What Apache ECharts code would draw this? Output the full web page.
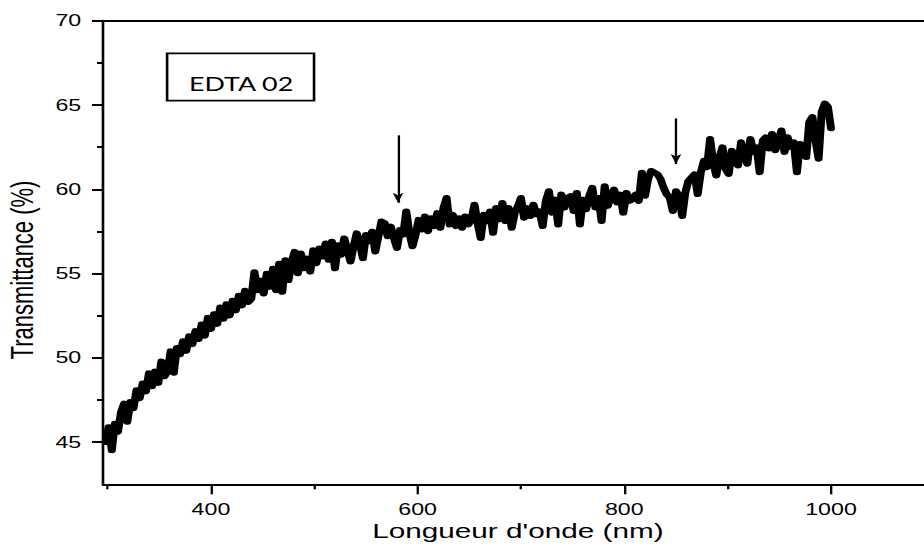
<!DOCTYPE html>
<html>
<head>
<meta charset="utf-8">
<script src="https://cdn.jsdelivr.net/npm/echarts@6/dist/echarts.min.js"></script>
<style>
  html, body { margin: 0; padding: 0; background: #fff; }
  #frame { width: 924px; height: 545px; overflow: hidden; position: relative; }
  /* the figure is drawn at a narrower width and stretched horizontally */
  #chart { width: 637px; height: 545px; transform: scaleX(1.45055); transform-origin: 0 0; }
</style>
</head>
<body>
<div id="frame"><div id="chart"></div></div>
<script>
// Transmittance spectrum of sample EDTA 02, sampled every 3 nm from 298 nm
const sampleLabel = 'EDTA 02';
const xTitle = "Longueur d'onde (nm)";
const yTitle = 'Transmittance (%)';
const startWavelength = 298;
const wavelengthStep = 3;
const transmittance = [
  45.0, 45.9, 44.5, 46.1, 45.6, 46.8, 47.3, 46.2, 47.4, 47.0,
  48.1, 47.6, 48.5, 48.0, 49.1, 48.3, 49.2, 48.5, 49.8, 48.9,
  49.2, 50.4, 49.1, 50.6, 50.2, 51.0, 50.4, 51.3, 50.8, 51.6,
  51.1, 52.0, 51.3, 52.4, 51.7, 52.6, 52.0, 53.0, 52.3, 53.2,
  52.5, 53.4, 52.8, 53.7, 53.1, 54.0, 53.3, 53.5, 55.1, 54.0,
  54.6, 53.8, 55.0, 54.2, 55.3, 54.0, 55.6, 53.9, 55.8, 54.6,
  55.7, 56.3, 55.0, 56.2, 55.3, 55.9, 55.1, 56.4, 55.6, 56.5,
  56.0, 56.8, 55.8, 56.9, 55.3, 56.7, 56.1, 57.1, 56.4, 55.7,
  56.6, 57.4, 56.8, 55.9, 57.3, 56.9, 57.5, 56.3, 57.2, 58.1,
  58.0, 57.2, 57.8, 57.1, 56.5, 57.6, 57.3, 58.7, 57.4, 56.6,
  57.3, 58.2, 57.6, 58.4, 57.5, 58.3, 57.8, 58.6, 57.7, 58.9,
  59.5, 57.9, 58.5, 57.8, 58.3, 57.7, 58.4, 57.9, 58.2, 59.1,
  58.0, 57.1, 58.5, 58.1, 58.7, 57.4, 58.9, 58.2, 59.2, 58.1,
  58.9, 57.7, 58.6, 59.0, 59.5, 58.3, 58.9, 58.4, 59.1, 58.5,
  58.7, 57.8, 59.3, 59.9, 58.6, 59.4, 57.9, 59.7, 58.9, 59.5,
  59.6, 58.7, 59.8, 57.9, 59.4, 58.8, 59.6, 60.1, 58.9, 59.5,
  58.1, 60.2, 59.0, 59.6, 60.0, 59.2, 59.7, 58.6, 59.8, 59.3,
  59.4, 59.7, 59.3, 61.0, 59.6, 60.6, 61.1, 61.0, 60.9, 60.6,
  60.1, 59.7, 59.5, 58.7, 59.9, 59.6, 58.4, 59.8, 60.5, 60.7,
  60.9, 59.7, 61.0, 61.7, 61.3, 63.0, 61.6, 60.8, 61.9, 62.5,
  61.2, 60.9, 62.3, 61.7, 61.4, 62.8, 62.0, 61.5, 63.0, 62.2,
  62.5, 61.0, 62.9, 63.1, 62.4, 63.3, 62.3, 62.8, 63.5, 62.2,
  63.1, 62.5, 62.8, 61.0, 62.7, 62.6, 61.9, 64.0, 64.3, 62.9,
  61.8, 64.6, 65.1, 64.9, 63.6
];
const wavelengths = transmittance.map((_, i) => startWavelength + wavelengthStep * i);

// axis ticks and labels
const xMajorTicks = [400, 600, 800, 1000];
const xMinorTicks = [300, 500, 700, 900];
const yMajorTicks = [45, 50, 55, 60, 65, 70];
const yMinorTicks = [47.5, 52.5, 57.5, 62.5, 67.5];

// vertical arrows marking features of the spectrum
const arrowWavelengths = [581, 850];
const arrowTops = [63.2, 64.2];
const arrowTips = [59.2, 61.5];

const FONT = "'Liberation Sans', Arial, sans-serif";
const chart = echarts.init(document.getElementById('chart'), null, { renderer: 'svg' });

const xRange = { min: 295.5, max: 1090 };
const yRange = { min: 42.5, max: 70 };

const option = {
  animation: false,
  backgroundColor: '#fff',
  grid: { left: 71, right: 0, top: 20.7, bottom: 60.7, containLabel: false },
  xAxis: [
    {
      type: 'value', position: 'bottom', ...xRange,
      axisLine: { show: true, onZero: false, lineStyle: { color: '#000', width: 2 } },
      axisTick: { show: true, customValues: xMajorTicks, length: 10, lineStyle: { color: '#000', width: 1.6 } },
      axisLabel: {
        show: true, customValues: xMajorTicks, margin: 17, fontSize: 16, fontFamily: FONT, color: '#000',
        formatter: (v) => String(v)
      },
      splitLine: { show: false }
    },
    {
      type: 'value', position: 'bottom', ...xRange,
      axisLine: { show: false },
      axisTick: { show: true, customValues: xMinorTicks, length: 5, lineStyle: { color: '#000', width: 1.6 } },
      axisLabel: { show: false },
      splitLine: { show: false }
    },
    {
      type: 'value', position: 'top', ...xRange,
      axisLine: { show: true, onZero: false, lineStyle: { color: '#000', width: 2 } },
      axisTick: { show: false },
      axisLabel: { show: false },
      splitLine: { show: false }
    }
  ],
  yAxis: [
    {
      type: 'value', position: 'left', ...yRange,
      axisLine: { show: true, onZero: false, lineStyle: { color: '#000', width: 1.8 } },
      axisTick: { show: true, customValues: yMajorTicks, length: 7.6, lineStyle: { color: '#000', width: 2 } },
      axisLabel: {
        show: true, customValues: yMajorTicks, margin: 15, fontSize: 16, fontFamily: FONT, color: '#000',
        formatter: (v) => String(v)
      },
      splitLine: { show: false }
    },
    {
      type: 'value', position: 'left', ...yRange,
      axisLine: { show: false },
      axisTick: { show: true, customValues: yMinorTicks, length: 4.1, lineStyle: { color: '#000', width: 2 } },
      axisLabel: { show: false },
      splitLine: { show: false }
    }
  ],
  series: [
    {
      type: 'line',
      xAxisIndex: 0,
      yAxisIndex: 0,
      data: wavelengths.map((w, i) => [w, transmittance[i]]),
      showSymbol: false,
      lineStyle: { color: '#000', width: 5.5, join: 'round', cap: 'round' },
      markLine: {
        silent: true,
        animation: false,
        symbolSize: [5.5, 10],
        label: { show: false },
        lineStyle: { color: '#000', width: 1.6, type: 'solid' },
        data: arrowWavelengths.map((w, i) => [
          { coord: [w, arrowTops[i]], symbol: 'none' },
          { coord: [w, arrowTips[i]], symbol: 'arrow' }
        ])
      }
    }
  ],
  graphic: [
    {
      type: 'rect',
      shape: { x: 115.2, y: 53.3, width: 101.3, height: 47.4 },
      style: { fill: '#fff', stroke: '#000', lineWidth: 1.8 }
    },
    {
      type: 'text', x: 130.3, y: 83.5,
      style: { text: sampleLabel, font: "18.5px Lato, 'Open Sans', sans-serif", fill: '#000', align: 'left', verticalAlign: 'middle' }
    },
    {
      type: 'text', x: 357, y: 531,
      style: { text: xTitle, font: '20.5px ' + FONT, fill: '#000', align: 'center', verticalAlign: 'middle' }
    },
    {
      type: 'text', x: 15.2, y: 270, rotation: Math.PI / 2,
      style: { text: yTitle, font: '22px ' + FONT, fill: '#000', align: 'center', verticalAlign: 'middle' }
    }
  ]
};
chart.setOption(option);
</script>
</body>
</html>
